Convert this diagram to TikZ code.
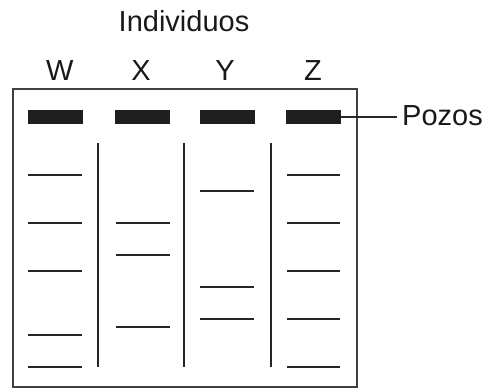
\documentclass[tikz,border=0pt]{standalone}
\usepackage{fontspec}
\setmainfont{Liberation Sans}
\begin{document}
\begin{tikzpicture}[x=1pt,y=-1pt,
  well/.style={fill=black!88,draw=none,inner sep=0pt,minimum width=55pt,minimum height=14pt},
  band/.style={line width=2pt,draw=black!85},
  lane/.style={line width=2pt,draw=black!85},
  lbl/.style={font=\fontsize{29}{34}\selectfont,anchor=base,inner sep=0pt,text=black!90}]
\useasboundingbox (0,0) rectangle (485,388);
\draw[line width=2pt,draw=black!75] (12.5,89) rectangle (357,387);
% labels
\node[lbl] (ind) at (184,31) {Individuos};
\node[lbl] (lw) at (59.7,80.5) {W};
\node[lbl] (lx) at (141,80.5) {X};
\node[lbl] (ly) at (225,80.5) {Y};
\node[lbl] (lz) at (313,80.5) {Z};
% wells
\node[well] (ww) at (55,117) {};
\node[well] (wx) at (142.8,117) {};
\node[well] (wy) at (227,117) {};
\node[well,minimum width=55.3pt] (wz) at (313.6,117) {};
% lane separators
\draw[lane] (97.7,143.3) -- (97.7,366.7);
\draw[lane] (184.3,143.3) -- (184.3,366.7);
\draw[lane] (271,143.3) -- (271,366.7);
% W bands
\foreach \y in {175,223.3,271,335.3,367} \draw[band] (28.3,\y) -- (81.7,\y);
% X bands
\foreach \y in {223.3,255,326.7} \draw[band] (116.3,\y) -- (169.7,\y);
% Y bands
\foreach \y in {191,287,319} \draw[band] (200,\y) -- (254,\y);
% Z bands
\foreach \y in {175,223.3,271,319,367} \draw[band] (287.3,\y) -- (340,\y);
% Pozos
\node[font=\fontsize{29}{34}\selectfont,anchor=base west,inner sep=0pt,text=black!90] (poz) at (402,125.5) {Pozos};
\coordinate (pozl) at (396.7,117);
\draw[line width=1.3pt,draw=black!85] (wz.east) -- (pozl);
\end{tikzpicture}
\end{document}
